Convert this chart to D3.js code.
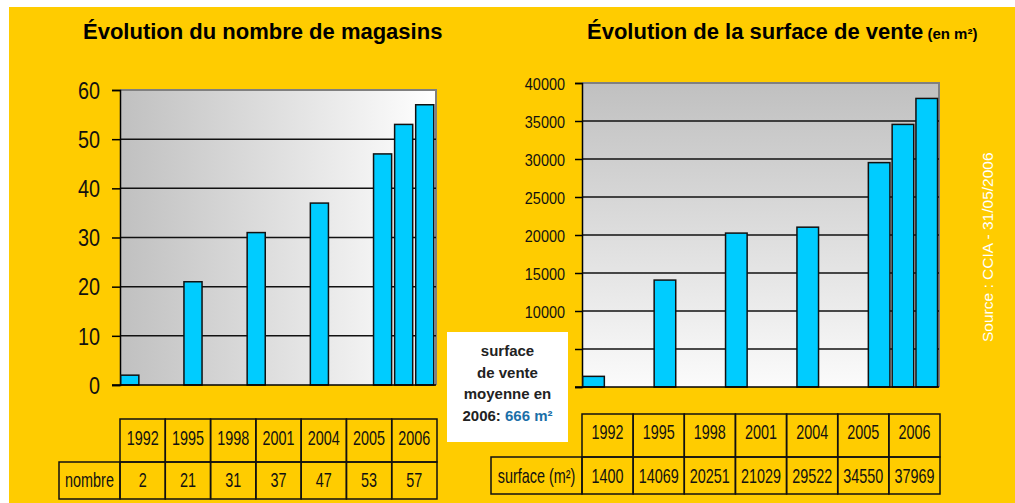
<!DOCTYPE html>
<html>
<head>
<meta charset="utf-8">
<script src="https://cdn.jsdelivr.net/npm/d3@7"></script>
<style>
  html, body { margin: 0; padding: 0; background: #fff; }
  svg { display: block; font-family: "Liberation Sans", Arial, sans-serif; }
</style>
</head>
<body>
<div class="canvas"></div>
<script>
// DATA
const years = [1992, 1995, 1998, 2001, 2004, 2005, 2006];
const nombre = [2, 21, 31, 37, 47, 53, 57];
const surface = [1400, 14069, 20251, 21029, 29522, 34550, 37969];
const nombreTicks = [0, 10, 20, 30, 40, 50, 60];
const surfaceTicks = [0, 5000, 10000, 15000, 20000, 25000, 30000, 35000, 40000];

const W = 1015, H = 503;
const yellow = '#ffcc00';
const barFill = '#00ccff';

const svg = d3.select('.canvas').append('svg')
    .attr('width', W)
    .attr('height', H);

// background
svg.append('rect')
    .attr('x', 9).attr('y', 7)
    .attr('width', W - 9).attr('height', H - 7)
    .attr('fill', yellow);

const defs = svg.append('defs');

const gradH = defs.append('linearGradient').attr('id', 'gradH')
    .attr('x1', 0).attr('y1', 0).attr('x2', 1).attr('y2', 0);
gradH.append('stop').attr('offset', 0).attr('stop-color', '#c0c0c0');
gradH.append('stop').attr('offset', 1).attr('stop-color', '#ffffff');

const gradV = defs.append('linearGradient').attr('id', 'gradV')
    .attr('x1', 0).attr('y1', 0).attr('x2', 0).attr('y2', 1);
gradV.append('stop').attr('offset', 0).attr('stop-color', '#c0c0c0');
gradV.append('stop').attr('offset', 1).attr('stop-color', '#fbfbfb');


// condensed text (the original uses a narrow face)
const narrowText = function (parent, x, y, size, sx, txt) {
    return parent.append('text')
        .attr('transform', `translate(${x},${y}) scale(${sx},1)`)
        .attr('text-anchor', 'middle')
        .style('font-size', size + 'px')
        .attr('fill', '#111')
        .text(txt);
};


// draws one bar chart + its table
const drawChart = function (opt) {
    const g = svg.append('g');

    const x = d3.scaleLinear().domain([1992, 2007]).range([opt.left, opt.right]);
    const y = d3.scaleLinear().domain([0, opt.max]).range([opt.bottom, opt.top]);
    const bw = (x(1993) - x(1992)) * opt.barRatio;

    // plot area
    g.append('rect')
        .attr('x', opt.left).attr('y', opt.top)
        .attr('width', opt.right - opt.left).attr('height', opt.bottom - opt.top)
        .attr('fill', `url(#${opt.grad})`);

    // top / right border
    g.append('path')
        .attr('d', `M${opt.left},${opt.top}H${opt.right}V${opt.bottom}`)
        .attr('fill', 'none')
        .attr('stroke', '#808080')
        .attr('stroke-width', 2);

    // grid lines
    g.selectAll('.grid')
        .data(opt.ticks.filter(t => t > 0 && t < opt.max))
        .join('line')
        .attr('x1', opt.left).attr('x2', opt.right)
        .attr('y1', d => y(d)).attr('y2', d => y(d))
        .attr('stroke', '#111')
        .attr('stroke-width', 1.5);

    // y axis
    const axis = g.append('g')
        .attr('transform', `translate(${opt.left},0)`)
        .call(d3.axisLeft(y).tickValues(opt.ticks).tickSize(opt.tick)
            .tickFormat(d => opt.hidden.includes(d) ? '' : d3.format('d')(d)));
    axis.select('.domain').attr('stroke', '#000').attr('stroke-width', 1.5);
    axis.selectAll('.tick line').attr('stroke', '#000').attr('stroke-width', 1.5);
    axis.selectAll('.tick text')
        .attr('x', 0)
        .attr('transform', `translate(${-(opt.tick + opt.pad)},0) scale(${opt.tickScale},1)`)
        .attr('fill', '#111')
        .style('font-family', '"Liberation Sans", Arial, sans-serif')
        .style('font-size', opt.tickFont + 'px')
        .attr('dy', '0.36em');

    // bars
    g.selectAll('.bar')
        .data(opt.values)
        .join('rect')
        .attr('x', (d, i) => x(years[i]) + 0.75)
        .attr('y', d => y(d))
        .attr('width', bw - 1.5)
        .attr('height', d => opt.bottom - y(d))
        .attr('fill', barFill)
        .attr('stroke', '#111')
        .attr('stroke-width', 1.5);

    // bottom axis line
    g.append('line')
        .attr('x1', opt.left - opt.tick).attr('x2', opt.right)
        .attr('y1', opt.bottom).attr('y2', opt.bottom)
        .attr('stroke', '#000').attr('stroke-width', 1.5);

    // TABLE
    const col = d3.scaleBand().domain(years).range([opt.left, opt.right + 1]);
    const t = g.append('g').attr('fill', 'none').attr('stroke', '#111').attr('stroke-width', 1.5);

    years.forEach((yr, i) => {
        t.append('rect')
            .attr('x', col(yr)).attr('y', opt.row0)
            .attr('width', col.bandwidth()).attr('height', opt.row1 - opt.row0);
        t.append('rect')
            .attr('x', col(yr)).attr('y', opt.row1)
            .attr('width', col.bandwidth()).attr('height', opt.row2 - opt.row1);

        const cx = col(yr) + col.bandwidth() / 2;
        narrowText(g, cx, opt.row0 + opt.base0, 20, 0.72, yr);
        narrowText(g, cx, opt.row1 + opt.base1, 20, 0.72, opt.values[i]);
    });

    t.append('rect')
        .attr('x', opt.labelLeft).attr('y', opt.row1)
        .attr('width', opt.left - opt.labelLeft).attr('height', opt.row2 - opt.row1);

    narrowText(g, (opt.labelLeft + opt.left) / 2, opt.row1 + opt.base1, 20, 0.72, opt.label);

    // title
    const title = g.append('text')
        .attr('x', opt.titleX)
        .attr('y', 39)
        .style('font-weight', 700)
        .style('font-size', '22px')
        .attr('fill', '#000')
        .text(opt.title);
    if (opt.titleSmall) {
        title.append('tspan')
            .style('font-size', '15px')
            .text(' ' + opt.titleSmall);
    }
};


drawChart({
    values: nombre, ticks: nombreTicks, max: 60, hidden: [],
    left: 120, right: 436, top: 90, bottom: 385,
    grad: 'gradH', barRatio: 0.93, tick: 8, pad: 12, tickFont: 23, tickScale: 0.86,
    row0: 419, row1: 462, row2: 499, base0: 26, base1: 25,
    labelLeft: 59, label: 'nombre',
    title: 'Évolution du nombre de magasins', titleX: 83
});

drawChart({
    values: surface, ticks: surfaceTicks, max: 40000, hidden: [0, 5000],
    left: 582, right: 939, top: 83, bottom: 387,
    grad: 'gradV', barRatio: 0.97, tick: 7, pad: 10, tickFont: 17, tickScale: 0.85,
    row0: 414, row1: 457, row2: 494, base0: 25, base1: 26,
    labelLeft: 491, label: 'surface (m²)',
    title: 'Évolution de la surface de vente', titleSmall: '(en m²)', titleX: 587
});


// white note box
const note = svg.append('g');
note.append('rect')
    .attr('x', 447).attr('y', 332)
    .attr('width', 121).attr('height', 110)
    .attr('fill', '#fff');

const noteLines = ['surface', 'de vente', 'moyenne en'];
noteLines.forEach((l, i) => {
    note.append('text')
        .attr('x', 507.5).attr('y', 356 + i * 21.5)
        .attr('text-anchor', 'middle')
        .style('font-weight', 700)
        .style('font-size', '15px')
        .attr('fill', '#222')
        .text(l);
});
const last = note.append('text')
    .attr('x', 507.5).attr('y', 421)
    .attr('text-anchor', 'middle')
    .style('font-weight', 700)
    .style('font-size', '15px')
    .attr('fill', '#222');
last.append('tspan').text('2006: ');
last.append('tspan').attr('fill', '#1a6fa8').text('666 m²');


// source
svg.append('text')
    .attr('transform', 'translate(993,342) rotate(-90)')
    .style('font-size', '15.5px')
    .attr('fill', '#fff')
    .text('Source : CCIA - 31/05/2006');
</script>
</body>
</html>
